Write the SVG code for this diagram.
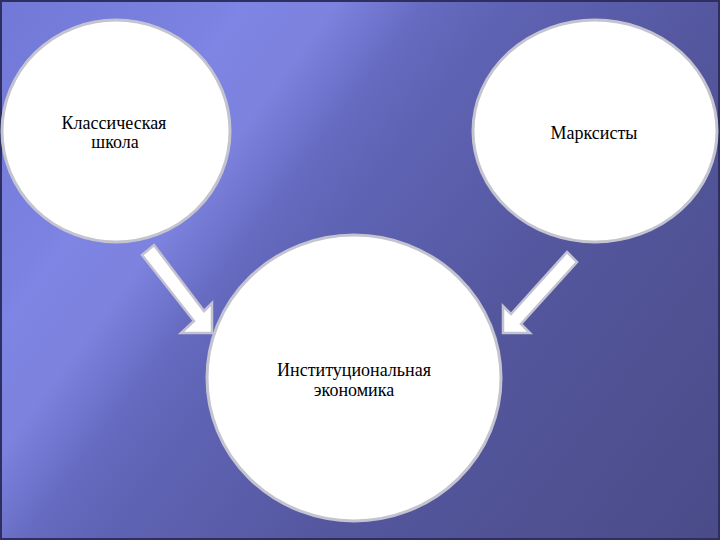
<svg xmlns="http://www.w3.org/2000/svg" width="720" height="540" viewBox="0 0 720 540">
<style>
.node{fill:#ffffff;stroke:#c4c4d0;stroke-width:3}
.arrow{fill:#ffffff;stroke:#c2c2d2;stroke-width:2.5;stroke-linejoin:miter}
.lbl{font-family:"Liberation Serif","Times New Roman",serif;font-size:18px;fill:#000000;text-anchor:middle}
</style>
<defs>
<linearGradient id="bg" x1="0" y1="0" x2="720" y2="540" gradientUnits="userSpaceOnUse">
<stop offset="0" stop-color="#7178d6"/>
<stop offset="0.22" stop-color="#7c83e2"/>
<stop offset="0.32" stop-color="#6d72cc"/>
<stop offset="0.45" stop-color="#5f63b4"/>
<stop offset="0.65" stop-color="#54579e"/>
<stop offset="1" stop-color="#4a4b88"/>
</linearGradient>
<linearGradient id="streak" x1="0" y1="0" x2="720" y2="540" gradientUnits="userSpaceOnUse">
<stop offset="0.2" stop-color="#9aa2ff" stop-opacity="0"/>
<stop offset="0.3" stop-color="#9aa2ff" stop-opacity="0.3"/>
<stop offset="0.38" stop-color="#9aa2ff" stop-opacity="0"/>
</linearGradient>
</defs>
<rect x="0" y="0" width="720" height="540" fill="url(#bg)"/>
<rect x="0" y="0" width="720" height="540" fill="url(#streak)"/>
<rect x="1" y="1" width="718" height="538" fill="none" stroke="#2e2f60" stroke-width="2"/>
<g id="connectors">
<polygon class="arrow" points="142,255 154,245 204,311 212,303 212,333 181,333 194,321"/>
<polygon class="arrow" points="567,252 577,262 521,324 530,333 503,333 503,306 511,314"/>
</g>
<g id="node-classic">
<ellipse class="node" cx="116" cy="131" rx="114" ry="111"/>
<text class="lbl" x="114" y="129">Классическая</text>
<text class="lbl" x="115" y="148">школа</text>
</g>
<g id="node-marxists">
<ellipse class="node" cx="595" cy="131" rx="122" ry="111"/>
<text class="lbl" x="594" y="139">Марксисты</text>
</g>
<g id="node-institutional">
<ellipse class="node" cx="354" cy="378" rx="147" ry="143"/>
<text class="lbl" x="354" y="376">Институциональная</text>
<text class="lbl" x="354" y="396">экономика</text>
</g>
</svg>
